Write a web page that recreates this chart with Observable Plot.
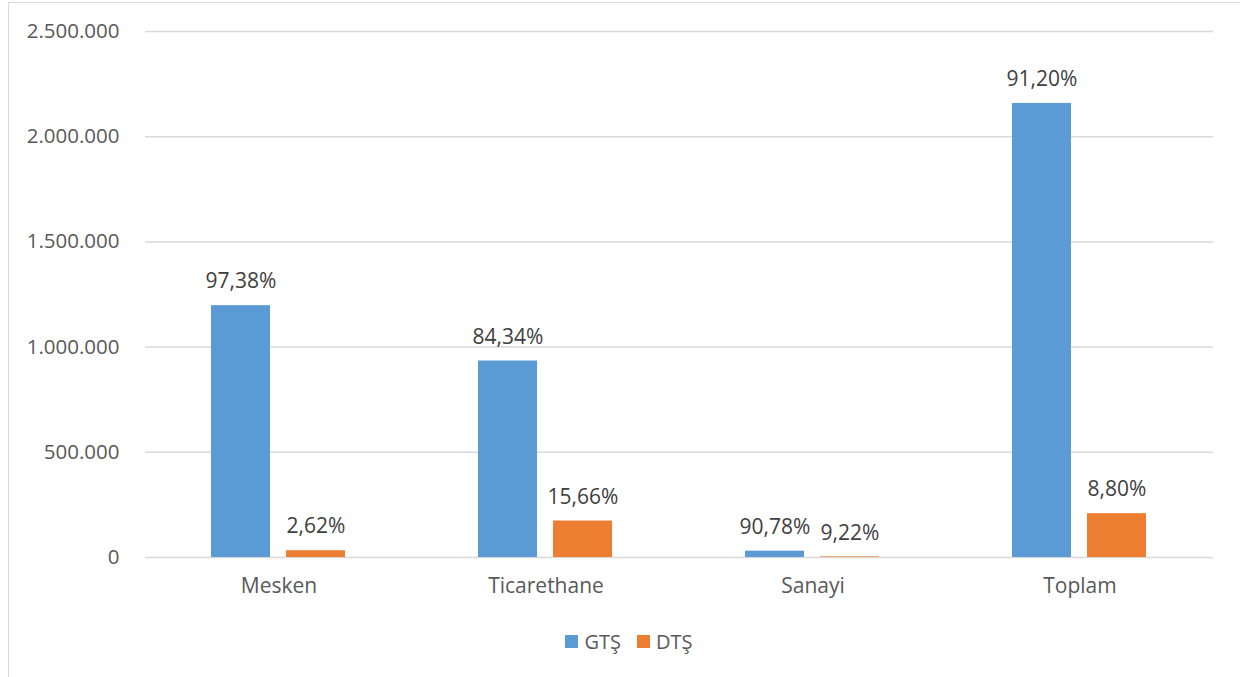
<!DOCTYPE html>
<html>
<head>
<meta charset="utf-8">
<script src="https://cdn.jsdelivr.net/npm/d3@7"></script>
<script src="https://cdn.jsdelivr.net/npm/@observablehq/plot@0.6"></script>
<style>
  html, body { margin: 0; padding: 0; background: #fff; width: 1240px; height: 677px; overflow: hidden; }
  body { font-family: "Open Sans", sans-serif; position: relative; }
  #frameTop { position: absolute; left: 8px; top: 2px; width: 1232px; height: 0; border-top: 1.5px solid #d9d9d9; }
  #frameLeft { position: absolute; left: 8px; top: 2px; width: 0; height: 675px; border-left: 1.5px solid #d9d9d9; }
  #chart { position: absolute; left: 0; top: 0; }
  #legend { position: absolute; left: 0; top: 628px; width: 1258px; display: flex; justify-content: center; gap: 16px; font-size: 20px; color: #595959; }
  #legend .item { display: flex; align-items: center; gap: 6px; }
  #legend .sw { width: 13px; height: 13px; display: inline-block; }
</style>
</head>
<body>
<div id="frameTop"></div>
<div id="frameLeft"></div>
<div id="chart"></div>
<div id="legend"></div>
<script>
const categories = ["Mesken", "Ticarethane", "Sanayi", "Toplam"];
const seriesNames = ["GTŞ", "DTŞ"];
const gtsValues = [1197000, 934000, 30000, 2158000];
const dtsValues = [32200, 173400, 3050, 208300];
const gtsLabels = ["97,38%", "84,34%", "90,78%", "91,20%"];
const dtsLabels = ["2,62%", "15,66%", "9,22%", "8,80%"];
const yTicks = [0, 500000, 1000000, 1500000, 2000000, 2500000];
const colors = ["#5b9bd5", "#ed7d31"];

const rows = [];
categories.forEach((c, i) => {
  rows.push({category: c, series: seriesNames[0], value: gtsValues[i], label: gtsLabels[i]});
  rows.push({category: c, series: seriesNames[1], value: dtsValues[i], label: dtsLabels[i]});
});

const fmt = d3.formatLocale({decimal: ",", thousands: ".", grouping: [3], currency: ["", ""]}).format(",d");

const chart = Plot.plot({
  width: 1240,
  height: 610,
  marginLeft: 145,
  marginRight: 27,
  marginTop: 31,
  marginBottom: 53,
  style: {fontFamily: "Open Sans, sans-serif", fontSize: "20px", color: "#595959", background: "transparent"},
  fx: {domain: categories, padding: 0, label: null},
  x: {domain: seriesNames, paddingInner: 0.2105, paddingOuter: 0.862, axis: null},
  y: {domain: [0, 2500000], ticks: yTicks, label: null},
  color: {domain: seriesNames, range: colors},
  marks: [
    Plot.gridY(yTicks, {stroke: "#d9d9d9", strokeOpacity: 1, strokeWidth: 1.5}),
    Plot.axisY(yTicks, {tickSize: 0, tickPadding: 26, tickFormat: fmt, fontSize: 20.5, fill: "#595959", label: null}),
    Plot.axisFx({anchor: "bottom", tickSize: 0, tickPadding: 21, fontSize: 21, fill: "#595959", label: null}),
    Plot.barY(rows, {fx: "category", x: "series", y: "value", fill: "series"}),
    Plot.text(rows, {fx: "category", x: "series", y: "value", text: "label", dy: -24, fontSize: 21, fill: "#404040"})
  ]
});
document.getElementById("chart").appendChild(chart);

const legend = document.getElementById("legend");
seriesNames.forEach((s, i) => {
  const item = document.createElement("div");
  item.className = "item";
  const sw = document.createElement("span");
  sw.className = "sw";
  sw.style.background = colors[i];
  const t = document.createElement("span");
  t.textContent = s;
  item.appendChild(sw);
  item.appendChild(t);
  legend.appendChild(item);
});
</script>
</body>
</html>
